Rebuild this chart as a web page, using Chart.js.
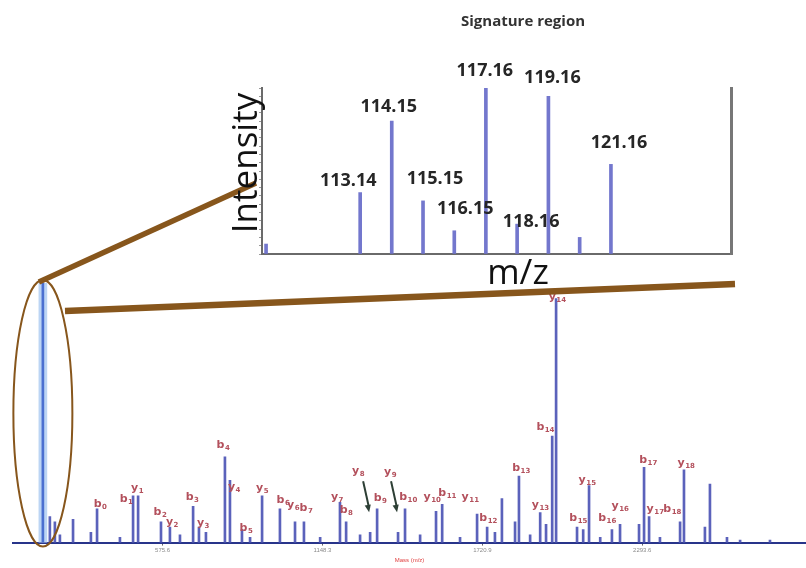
<!DOCTYPE html>
<html>
<head>
<meta charset="utf-8">
<script src="https://cdn.jsdelivr.net/npm/chart.js@4.4.1/dist/chart.umd.min.js"></script>
<style>
  html, body { margin: 0; padding: 0; background: #fff; }
  #wrap { position: relative; width: 806px; height: 568px; overflow: hidden; }
  canvas { position: absolute; left: 0; top: 0; }
</style>
</head>
<body>
<div id="wrap">
  <canvas id="main" width="806" height="568"></canvas>
  <canvas id="inset" width="806" height="300"></canvas>
</div>
<script>
// ---- full MS/MS spectrum ----
const peakMz = [147, 172, 190, 208, 255, 319, 341, 423, 470, 488, 570, 602, 638, 685, 706, 731,
  799, 817, 860, 889, 932, 996, 1050, 1082, 1140, 1211, 1233, 1283, 1319, 1344, 1419, 1444,
  1498, 1555, 1577, 1641, 1702, 1738, 1766, 1791, 1838, 1852, 1892, 1928, 1949, 1971, 1985,
  2060, 2082, 2103, 2143, 2185, 2214, 2282, 2300, 2318, 2357, 2429, 2443, 2518, 2536, 2597,
  2644, 2751];
const peakInt = [100, 10, 8, 3, 9, 4, 13, 2, 18, 18, 8, 6, 3, 14, 6, 4,
  33, 24, 5, 2, 18, 13, 8, 8, 2, 15.5, 8, 3, 4, 13, 4, 13,
  3, 12, 14.7, 2, 11, 6, 4, 17, 8, 25.6, 3, 11.6, 7, 41, 94,
  6, 5, 22, 2, 5, 7, 7, 29, 10, 2, 8, 28, 6, 22.5, 2,
  1, 1];
const peakIon = ['', '', '', '', '', '', 'b0', '', 'b1', 'y1', 'b2', 'y2', '', 'b3', 'y3', '',
  'b4', 'y4', 'b5', '', 'y5', 'b6', 'y6', 'b7', '', 'y7', 'b8', '', 'y8', 'b9', 'y9', 'b10',
  '', 'y10', 'b11', '', 'y11', 'b12', '', '', '', 'b13', '', 'y13', '', 'b14', 'y14',
  '', 'b15', 'y15', '', 'b16', 'y16', '', 'b17', 'y17', '', 'b18', 'y18', '', '', '',
  '', ''];
const xTicks = [575.6, 1148.3, 1720.9, 2293.6];
const haloMz = [147];
const haloInt = [100];

// ---- signature (reporter ion) region ----
const sigMz = [110.13, 113.14, 114.15, 115.15, 116.15, 117.16, 118.16, 119.16, 120.16, 121.16];
const sigInt = [6, 37, 80, 32, 14, 100, 18, 95, 10, 54];
const sigLabels = ['', '113.14', '114.15', '115.15', '116.15', '117.16', '118.16', '119.16', '', '121.16'];

// label nudges in px, relative to the peak top
const ionNudge = {
  b0: [3, -6], b1: [-7, 2], y1: [-1, -9], b2: [-1, -11], y2: [2, -6], b3: [-1, -10], y3: [4, -5],
  b4: [-2, -13], y4: [4, 6], b5: [4, -3], y5: [0, -9], b6: [3, -10], y6: [-2, -18], b7: [2, -15],
  y7: [-3, -6], b8: [0, -13], y8: [-12, -62], b9: [3, -12], y9: [-8, -61], b10: [3, -13],
  y10: [-4, -15], b11: [5, -12], y11: [-7, -18], b12: [1, -10], b13: [2, -9], y13: [0, -8],
  b14: [-7, -10], y14: [1, -3], b15: [-5, -13], y15: [-2, -6], b16: [-5, -13], y16: [0, -19],
  b17: [4, -8], y17: [6, -9], b18: [-8, -14], y18: [2, -8]
};
const arrowIons = ['y8', 'y9'];
const sigNudge = [[0, 0], [-12, -12], [-3, -14], [12, -22], [11, -22], [-1, -17], [14, -2], [4, -18], [0, 0], [8, -21]];

const BROWN = '#87561c';

function drawIon(ctx, name, cx, cy) {
  const letter = name[0], sub = name.slice(1);
  ctx.font = 'bold 11px "DejaVu Sans"';
  const w1 = ctx.measureText(letter).width;
  ctx.font = 'bold 7px "DejaVu Sans"';
  const w2 = ctx.measureText(sub).width;
  const x0 = cx - (w1 + w2) / 2;
  ctx.fillStyle = '#b3505c';
  ctx.textBaseline = 'alphabetic';
  ctx.textAlign = 'left';
  ctx.font = 'bold 11px "DejaVu Sans"';
  ctx.fillText(letter, x0, cy + 4);
  ctx.font = 'bold 7px "DejaVu Sans"';
  ctx.fillText(sub, x0 + w1 + 0.5, cy + 6);
}

function arrow(ctx, x1, y1, x2, y2) {
  ctx.strokeStyle = '#2d3f35';
  ctx.fillStyle = '#2d3f35';
  ctx.lineWidth = 2;
  ctx.beginPath(); ctx.moveTo(x1, y1); ctx.lineTo(x2, y2 - 4); ctx.stroke();
  const a = Math.atan2(y2 - y1, x2 - x1);
  ctx.beginPath();
  ctx.moveTo(x2, y2);
  ctx.lineTo(x2 - 8 * Math.cos(a - 0.4), y2 - 8 * Math.sin(a - 0.4));
  ctx.lineTo(x2 - 8 * Math.cos(a + 0.4), y2 - 8 * Math.sin(a + 0.4));
  ctx.closePath(); ctx.fill();
}

const mainDecor = {
  id: 'mainDecor',
  afterDraw(chart) {
    const ctx = chart.ctx, xs = chart.scales.x, ys = chart.scales.y;
    ctx.save();
    // ion annotations
    peakIon.forEach((name, i) => {
      if (!name) return;
      const px = xs.getPixelForValue(peakMz[i]);
      const py = ys.getPixelForValue(peakInt[i]);
      const n = ionNudge[name] || [0, -10];
      drawIon(ctx, name, px + n[0], py + n[1]);
      if (arrowIons.includes(name)) arrow(ctx, px - 7, py - 51, px - 1, py - 20);
    });
    // zoom ellipse round the reporter spike
    const ex = xs.getPixelForValue(haloMz[0]);
    const top = chart.chartArea.top - 3, bot = chart.chartArea.bottom + 4;
    ctx.strokeStyle = BROWN;
    ctx.lineWidth = 2;
    ctx.beginPath();
    ctx.ellipse(ex, (top + bot) / 2, 29.5, (bot - top) / 2, 0, 0, Math.PI * 2);
    ctx.stroke();
    // connector bars to the inset
    ctx.lineWidth = 5.5;
    ctx.beginPath(); ctx.moveTo(ex - 4, top + 2); ctx.lineTo(256, 183); ctx.stroke();
    ctx.lineWidth = 6.5;
    ctx.beginPath(); ctx.moveTo(65, 311); ctx.lineTo(735, 284); ctx.stroke();
    ctx.restore();
  }
};

new Chart(document.getElementById('main'), {
  type: 'bar',
  data: {
    datasets: [{
      data: peakMz.map((x, i) => ({ x, y: peakInt[i] })),
      backgroundColor: ctx => (ctx.raw && ctx.raw.y >= 99 ? '#4b6fd0' : '#5b62bb'),
      barThickness: 2,
      order: 0
    }, {
      data: haloMz.map((x, i) => ({ x, y: haloInt[i] })),
      backgroundColor: '#bcd5f4',
      barThickness: 8,
      order: 1
    }]
  },
  options: {
    responsive: false,
    animation: false,
    datasets: { bar: { grouped: false } },
    layout: { padding: { left: 13, right: 0, top: 283, bottom: 4 } },
    plugins: { legend: { display: false }, tooltip: { enabled: false } },
    scales: {
      x: {
        type: 'linear', min: 40, max: 2880, offset: false,
        afterBuildTicks: s => { s.ticks = xTicks.map(v => ({ value: v })); },
        ticks: { font: { size: 6 }, color: '#8a8a8a', padding: 1, maxRotation: 0, callback: v => v.toFixed(1) },
        grid: { drawOnChartArea: false, tickLength: 3, color: '#666', offset: false },
        border: { color: '#28348a', width: 2 },
        title: { display: true, text: 'Mass (m/z)', color: '#e04040', font: { size: 6 }, padding: { top: 2, bottom: 0 } }
      },
      y: { display: false, min: 0, max: 100 }
    }
  },
  plugins: [mainDecor]
});

const insetDecor = {
  id: 'insetDecor',
  afterDraw(chart) {
    const ctx = chart.ctx, xs = chart.scales.x, ys = chart.scales.y;
    ctx.save();
    ctx.textAlign = 'center';
    ctx.textBaseline = 'middle';
    ctx.fillStyle = '#262626';
    ctx.font = 'bold 18px "Open Sans"';
    sigLabels.forEach((t, i) => {
      if (!t) return;
      const px = xs.getPixelForValue(sigMz[i]);
      const py = ys.getPixelForValue(sigInt[i]);
      ctx.fillText(t, px + sigNudge[i][0], py + sigNudge[i][1]);
    });
    ctx.fillStyle = '#333';
    ctx.font = 'bold 15px "Open Sans"';
    ctx.fillText('Signature region', 523, 22);
    ctx.fillStyle = '#111';
    ctx.font = '35px "Open Sans"';
    ctx.fillText('m/z', 518, 274);
    ctx.translate(247, 163);
    ctx.rotate(-Math.PI / 2);
    ctx.fillText('Intensity', 0, 0);
    ctx.restore();
  }
};

new Chart(document.getElementById('inset'), {
  type: 'bar',
  data: {
    datasets: [{
      data: sigMz.map((x, i) => ({ x, y: sigInt[i] })),
      backgroundColor: 'rgba(108,112,202,0.95)',
      barThickness: 3
    }]
  },
  options: {
    responsive: false,
    animation: false,
    layout: { padding: { left: 259, right: 67, top: 88, bottom: 38 } },
    plugins: { legend: { display: false }, tooltip: { enabled: false } },
    scales: {
      x: {
        type: 'linear', min: 110, max: 125, offset: false,
        ticks: { display: false }, grid: { display: false, offset: false },
        border: { color: '#6a6a6a', width: 2 }
      },
      y: {
        min: 0, max: 100,
        ticks: { display: false, stepSize: 5 },
        grid: { drawOnChartArea: false, tickLength: 3, color: '#999' },
        border: { color: '#6a6a6a', width: 2 }
      },
      y2: {
        position: 'right', min: 0, max: 100,
        ticks: { display: false }, grid: { display: false },
        border: { color: '#777', width: 3 }
      }
    }
  },
  plugins: [insetDecor]
});
</script>
</body>
</html>
